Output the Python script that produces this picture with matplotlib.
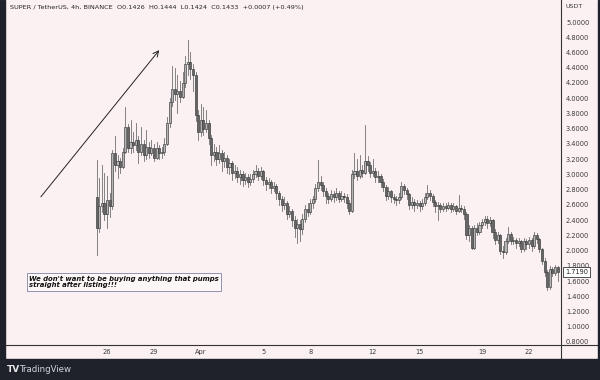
import matplotlib
matplotlib.use('Agg')
import matplotlib.pyplot as plt
from matplotlib.lines import Line2D
import numpy as np

# 4h candles, index 0 = 26 Mar 00:00
first_index = -4
first_open = 2.70
closes = [2.30, 2.58, 2.62, 2.48, 2.66, 2.58, 3.28, 3.12, 3.18, 3.10, 3.30, 3.62,
          3.35, 3.42, 3.38, 3.45, 3.30, 3.40, 3.25, 3.36, 3.28, 3.34, 3.22, 3.35,
          3.28, 3.30, 3.40, 3.68, 3.95, 4.12, 4.05, 4.10, 4.02, 4.20, 4.45, 4.48,
          4.38, 4.30, 3.78, 3.55, 3.72, 3.60, 3.68, 3.48, 3.25, 3.30, 3.20, 3.28,
          3.18, 3.22, 3.10, 3.15, 3.02, 3.05, 2.96, 3.00, 2.92, 2.97, 2.90, 2.94,
          3.00, 3.05, 2.98, 3.04, 2.92, 2.88, 2.90, 2.82, 2.85, 2.75, 2.68, 2.60,
          2.62, 2.48, 2.52, 2.40, 2.30, 2.35, 2.28, 2.42, 2.55, 2.50, 2.62, 2.68,
          2.82, 2.90, 2.86, 2.78, 2.72, 2.68, 2.74, 2.70, 2.75, 2.68, 2.72, 2.70,
          2.62, 2.52, 3.00, 3.05, 2.98, 3.06, 3.02, 3.18, 3.12, 3.02, 3.05, 2.96,
          2.98, 2.90, 2.84, 2.72, 2.78, 2.70, 2.68, 2.66, 2.70, 2.85, 2.80, 2.74,
          2.60, 2.64, 2.60, 2.62, 2.58, 2.62, 2.70, 2.76, 2.72, 2.64, 2.58, 2.60,
          2.55, 2.58, 2.56, 2.60, 2.55, 2.58, 2.52, 2.56, 2.54, 2.48, 2.20, 2.30,
          2.04, 2.30, 2.25, 2.34, 2.38, 2.42, 2.36, 2.40, 2.24, 2.14, 2.20, 2.00,
          1.98, 2.12, 2.22, 2.12, 2.14, 2.10, 2.12, 2.02, 2.12, 2.08, 2.14, 2.06,
          2.20, 2.15, 2.02, 1.86, 1.72, 1.52, 1.76, 1.70, 1.78, 1.719]
highs = [3.19, 2.95, 3.12, 3.02, 2.98, 2.75, 3.32, 3.50, 3.25, 3.22, 3.35, 3.88,
         3.66, 3.72, 3.55, 3.68, 3.50, 3.62, 3.45, 3.58, 3.42, 3.45, 3.40, 3.42,
         3.38, 3.36, 3.48, 3.75, 4.00, 4.42, 4.40, 4.30, 4.22, 4.35, 4.55, 4.77,
         4.60, 4.45, 4.35, 3.85, 3.92, 3.88, 3.85, 3.72, 3.52, 3.40, 3.36, 3.38,
         3.32, 3.30, 3.25, 3.20, 3.18, 3.12, 3.10, 3.06, 3.04, 3.02, 3.00, 3.00,
         3.06, 3.12, 3.08, 3.10, 3.06, 2.96, 2.95, 2.93, 2.90, 2.88, 2.78, 2.72,
         2.70, 2.65, 2.58, 2.55, 2.45, 2.42, 2.40, 2.48, 2.60, 2.62, 2.68, 2.72,
         2.88, 3.19, 2.98, 2.90, 2.82, 2.76, 2.80, 2.78, 2.82, 2.78, 2.78, 2.76,
         2.74, 2.66, 3.06, 3.28, 3.20, 3.25, 3.12, 3.65, 3.24, 3.16, 3.20, 3.08,
         3.04, 3.00, 2.94, 2.86, 2.84, 2.80, 2.74, 2.72, 2.76, 2.90, 2.88, 2.82,
         2.76, 2.70, 2.68, 2.66, 2.65, 2.68, 2.76, 2.86, 2.80, 2.74, 2.66, 2.64,
         2.62, 2.62, 2.62, 2.64, 2.62, 2.62, 2.60, 2.73, 2.60, 2.58, 2.50, 2.34,
         2.32, 2.34, 2.36, 2.38, 2.42, 2.46, 2.45, 2.44, 2.42, 2.28, 2.24, 2.22,
         2.06, 2.16, 2.31, 2.24, 2.18, 2.16, 2.17, 2.14, 2.16, 2.15, 2.18, 2.16,
         2.24, 2.23, 2.17, 2.04, 1.90, 1.74, 1.80, 1.79, 1.81, 1.80]
lows = [1.94, 2.25, 2.50, 2.40, 2.30, 2.44, 2.55, 3.05, 2.95, 3.02, 3.08, 3.28,
        3.30, 3.28, 3.30, 3.32, 3.15, 3.25, 3.18, 3.20, 3.22, 3.25, 3.18, 3.20,
        3.20, 3.22, 3.26, 3.38, 3.62, 3.90, 3.98, 3.80, 3.95, 4.00, 4.15, 4.30,
        4.25, 4.10, 3.70, 3.45, 3.50, 3.52, 3.55, 3.40, 3.12, 3.18, 3.12, 3.15,
        3.05, 3.10, 3.02, 3.00, 2.93, 2.95, 2.90, 2.88, 2.85, 2.88, 2.84, 2.86,
        2.90, 2.96, 2.92, 2.94, 2.86, 2.80, 2.82, 2.75, 2.78, 2.68, 2.60, 2.52,
        2.55, 2.42, 2.44, 2.32, 2.18, 2.10, 2.12, 2.22, 2.38, 2.45, 2.48, 2.56,
        2.64, 2.78, 2.80, 2.72, 2.62, 2.62, 2.65, 2.64, 2.66, 2.64, 2.65, 2.64,
        2.56, 2.48, 2.50, 2.95, 2.92, 2.95, 2.96, 3.00, 3.04, 2.96, 2.98, 2.90,
        2.90, 2.84, 2.78, 2.66, 2.68, 2.64, 2.62, 2.60, 2.62, 2.68, 2.74, 2.68,
        2.55, 2.56, 2.52, 2.56, 2.52, 2.55, 2.60, 2.68, 2.66, 2.58, 2.50, 2.40,
        2.50, 2.52, 2.52, 2.54, 2.50, 2.52, 2.48, 2.50, 2.50, 2.42, 2.15, 2.12,
        2.02, 2.02, 2.20, 2.22, 2.30, 2.34, 2.30, 2.32, 2.16, 2.08, 2.10, 1.95,
        1.90, 1.96, 2.10, 2.08, 2.08, 2.04, 2.06, 1.98, 2.00, 2.02, 2.04, 2.00,
        2.04, 2.10, 1.98, 1.82, 1.66, 1.48, 1.50, 1.66, 1.68, 1.60]

opens = [first_open] + closes[:-1]
idx = np.arange(first_index, first_index + len(closes))

price_ticks = np.arange(0.8, 5.01, 0.2)
date_pos = [0, 18, 36, 60, 78, 102, 120, 144, 162]
date_labels = ['26', '29', 'Apr', '5', '8', '12', '15', '19', '22']

bg = '#fcf1f2'
dark = '#1f222b'

fig = plt.figure(figsize=(6, 3.8), dpi=100, facecolor=bg)
ax = fig.add_axes([5 / 600, 35 / 380, 556 / 600, 345 / 380])
ax.set_facecolor(bg)

# candles
for i, o, h, l, c in zip(idx, opens, highs, lows, closes):
    ax.plot([i, i], [l, h], color='#707070', lw=0.6, zorder=2)
    if c >= o:
        fc = '#b5b5b5'
    else:
        fc = '#666666'
    ax.bar(i, max(abs(c - o), 0.008), bottom=min(o, c), width=0.8,
           color=fc, edgecolor='#383838', linewidth=0.45, zorder=3)

ax.set_xlim(-39.2, 174.3)
ax.set_ylim(0.7606, 5.2888)

ax.yaxis.tick_right()
ax.set_yticks(price_ticks)
ax.set_yticklabels(['%.4f' % p for p in price_ticks])
ax.tick_params(axis='y', length=0, pad=3.6, labelsize=4.8, labelcolor='#3a3a3a')
ax.set_xticks(date_pos)
ax.set_xticklabels(date_labels)
ax.tick_params(axis='x', length=0, pad=3, labelsize=4.8, labelcolor='#3a3a3a')
for s in ax.spines.values():
    s.set_visible(False)

# the arrow
ax.annotate('', xy=(20.7, 4.659), xytext=(-26.1, 2.677),
            arrowprops=dict(arrowstyle='->', color='#222222', lw=0.7))

# frame lines and dark borders
fig.add_artist(Line2D([5 / 600, 598 / 600], [35 / 380, 35 / 380], color='#333333', lw=0.8))
fig.add_artist(Line2D([561 / 600, 561 / 600], [21 / 380, 1], color='#333333', lw=0.8))
fig.patches.append(plt.Rectangle((0, 0), 5 / 600, 1, transform=fig.transFigure,
                                 color=dark, zorder=0))
fig.patches.append(plt.Rectangle((0, 0), 1, 21 / 380, transform=fig.transFigure,
                                 color=dark, zorder=5))
fig.patches.append(plt.Rectangle((598 / 600, 0), 2 / 600, 1, transform=fig.transFigure,
                                 color=dark, zorder=5))

# texts
fig.text(10 / 600, 1 - 7 / 380,
         'SUPER / TetherUS, 4h, BINANCE  O0.1426  H0.1444  L0.1424  C0.1433  +0.0007 (+0.49%)',
         fontsize=4.65, color='#222222', va='center', ha='left')
fig.text(566 / 600, 1 - 7 / 380, 'USDT', fontsize=4.6, color='#3a3a3a', va='center')
ax.text(1.0 + 4 / 556, 1.719, '1.7190', transform=ax.get_yaxis_transform(), fontsize=4.8,
        color='#222222', va='center', ha='left',
        bbox=dict(boxstyle='square,pad=0.25', fc='white', ec='#333333', lw=0.6),
        clip_on=False, zorder=6)

fig.text(29 / 600, 1 - 282 / 380,
         "We don't want to be buying anything that pumps\nstraight after listing!!!",
         fontsize=4.95, fontweight='heavy', fontstyle='italic', color='#111111',
         va='center', ha='left', linespacing=1.0,
         bbox=dict(boxstyle='square,pad=0.35', fc='#fdf6f7', ec='#8f95ad', lw=0.7))

fig.text(7 / 600, 10 / 380, 'TV', fontsize=6.5, fontweight='bold', color='#e6e6e6',
         va='center', ha='left', zorder=6)
fig.text(20 / 600, 10 / 380, 'TradingView', fontsize=6.2, color='#d1d4dc',
         va='center', ha='left', zorder=6)

fig.savefig('out.png', dpi=100, facecolor=bg)
